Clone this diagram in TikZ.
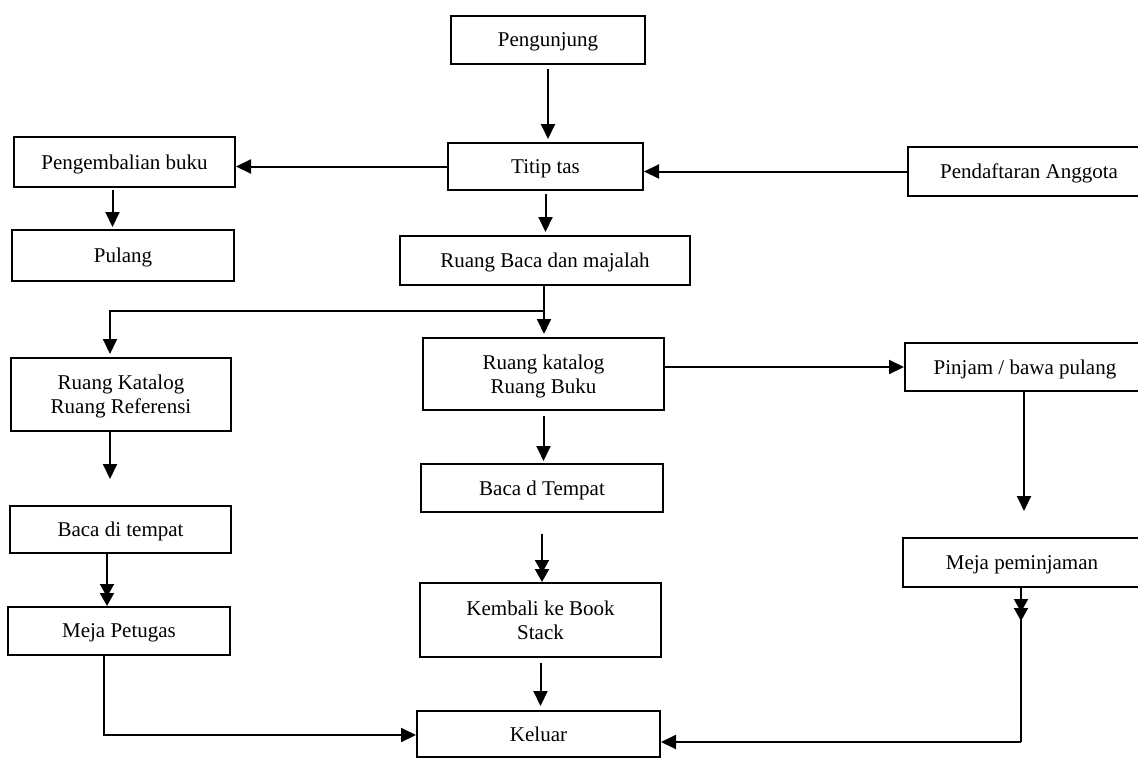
\documentclass[tikz,border=0pt]{standalone}
\usepackage{fontspec}
\setmainfont{Liberation Serif}
\usetikzlibrary{arrows.meta}
\begin{document}
\begin{tikzpicture}[x=1pt,y=-1pt,
  box/.style={draw, line width=2pt, align=center, inner sep=0pt, text depth=0pt,
    font=\fontsize{21}{24}\selectfont},
  conn/.style={line width=2pt},
  arr/.style={conn, -{Triangle[length=15pt,width=14pt]}},
  dbl/.style={conn, -{Triangle[length=13pt,width=14pt,sep=-4pt]Triangle[length=13pt,width=14pt]}}]
\useasboundingbox (0,0) rectangle (1138,758);
% nodes
\node[box, minimum width=194pt, minimum height=48pt] (peng) at (548,40) {Pengunjung};
\node[box, minimum width=195pt, minimum height=47pt] (titip) at (545.5,166.5) {Titip tas};
\node[box, minimum width=221pt, minimum height=50pt] (kembuku) at (124.5,162) {Pengembalian buku};
\node[box, minimum width=222pt, minimum height=51pt] (pulang) at (123,255.5) {Pulang};
\node[box, minimum width=242pt, minimum height=49pt] (daftar) at (1029,171.5) {Pendaftaran Anggota};
\node[box, minimum width=290pt, minimum height=49pt] (baca) at (545,260.5) {Ruang Baca dan majalah};
\node[box, minimum width=220pt, minimum height=73pt] (katref) at (121,394.5) {Ruang Katalog\\Ruang Referensi};
\node[box, minimum width=241pt, minimum height=72pt] (katbuku) at (543.5,374) {Ruang katalog\\Ruang Buku};
\node[box, minimum width=240pt, minimum height=48pt] (pinjam) at (1025,367) {Pinjam / bawa pulang};
\node[box, minimum width=221pt, minimum height=47pt] (bacadi) at (120.5,529.5) {Baca di tempat};
\node[box, minimum width=242pt, minimum height=48pt] (bacad) at (542,488) {Baca d Tempat};
\node[box, minimum width=241pt, minimum height=74pt] (kembali) at (540.5,620) {Kembali ke Book\\Stack};
\node[box, minimum width=222pt, minimum height=48pt] (mejapet) at (119,631) {Meja Petugas};
\node[box, minimum width=238pt, minimum height=49pt] (mejapem) at (1022,562.5) {Meja peminjaman};
\node[box, minimum width=243pt, minimum height=46pt] (keluar) at (538.5,734) {Keluar};
% helper coordinates
\coordinate (split) at (544,311);
\coordinate (cpet) at (104,735);
\coordinate (cpem) at (1021,742);
% connectors
\draw[arr, shorten <=4pt, shorten >=3pt] (peng.south) -- (peng.south |- titip.north);
\draw[arr] (titip.west) -- (titip.west -| kembuku.east);
\draw[arr] (daftar.west) -- (daftar.west -| titip.east);
\draw[arr, shorten <=2pt, shorten >=2pt] ([xshift=-12pt]kembuku.south) -- ([xshift=-12pt]kembuku.south |- pulang.north);
\draw[arr, shorten <=3pt, shorten >=3pt] (titip.south) -- (titip.south |- baca.north);
\draw[arr, shorten >=3pt] (split |- baca.south) -- (split |- katbuku.north);
\draw[arr, shorten >=3pt] (split) -| ([xshift=-11pt]katref.north);
\draw[arr] (katbuku.east |- pinjam.west) -- (pinjam.west);
\draw[arr, shorten <=5pt, shorten >=2pt] (katbuku.south) -- (katbuku.south |- bacad.north);
\draw[dbl] ([yshift=-21pt]bacad.south) -- (bacad.south |- kembali.north);
\draw[arr, shorten <=5pt, shorten >=4pt] (kembali.south) -- (kembali.south |- keluar.north);
\draw[arr, shorten >=26pt] ([xshift=-11pt]katref.south) -- ([xshift=-11pt]katref.south |- bacadi.north);
\draw[dbl] ([xshift=-13.5pt]bacadi.south) -- ([xshift=-13.5pt]bacadi.south |- mejapet.north);
\draw[arr] (cpet |- mejapet.south) -- (cpet) -- (keluar.west |- cpet);
\draw[arr, shorten >=26pt] ([xshift=-1pt]pinjam.south) -- ([xshift=-1pt]pinjam.south |- mejapem.north);
\draw[conn] (cpem |- mejapem.south) -- (cpem);
\draw[dbl] (cpem |- mejapem.south) -- ([yshift=-33pt]cpem |- mejapem.south);
\draw[arr] (cpem) -- (keluar.east |- cpem);
\end{tikzpicture}
\end{document}
